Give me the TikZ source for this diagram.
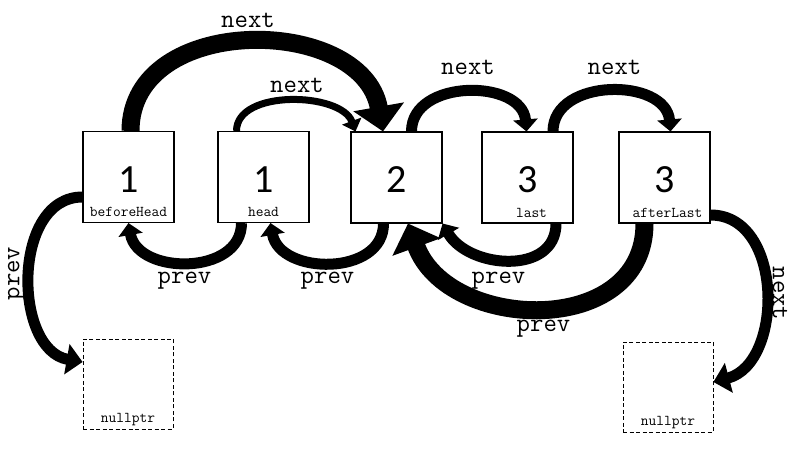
\documentclass[tikz,border=0pt]{standalone}
\usepackage{fontspec}
\newfontfamily\digitfont{Carlito}
\usetikzlibrary{arrows.meta, positioning}
\tikzset{
  cell/.style={draw, line width=1.1pt, minimum width=91pt, minimum height=91pt, inner sep=0pt,
    font=\digitfont\fontsize{40}{40}\selectfont, text height=31pt, text depth=0pt},
  nullcell/.style={cell, line width=0.8pt, dash pattern=on 4pt off 2.5pt, minimum width=90pt, minimum height=90pt},
  tag/.style={font=\ttfamily\fontsize{15}{15}\selectfont, anchor=base, yshift=6.5pt, inner sep=0pt},
  lbl/.style={font=\ttfamily\fontsize{26}{26}\selectfont, inner sep=0pt},
  ptr/.style={line width=11pt, -{Triangle[width=24pt, length=12pt]}},
  thin ptr/.style={line width=7pt, -{Triangle[width=20pt, length=11pt]}},
  fat ptr/.style={line width=18pt, -{Triangle[width=50pt, length=25pt]}},
  side ptr/.style={line width=11pt, -{Triangle[width=30pt, length=16pt]}}
}
\begin{document}
\begin{tikzpicture}[x=1pt, y=1pt]
	\useasboundingbox (0,0) rectangle (797,468);
	% list cells
	\node[cell, label={[tag]south:beforeHead}] (bh) at (128.5,291) {1};
	\node[cell, label={[tag]south:head}] (head) at (263.5,291) {1};
	\node[cell] (two) at (396.5,290.5) {2};
	\node[cell, label={[tag, xshift=4pt]south:last}] (last) at (527.5,290.5) {3};
	\node[cell, label={[tag, xshift=3pt]south:afterLast}] (al) at (664.5,290.5) {3};
	\node[nullcell, label={[tag]south:nullptr}] (nl) at (128,84) {};
	\node[nullcell, label={[tag]south:nullptr}] (nr) at (668,81) {};
	% next pointers
	\draw[fat ptr] ([xshift=2pt]bh.north) to[out=90, in=100, looseness=1.2] ([xshift=-13.5pt]two.north);
	\draw[thin ptr] ([xshift=-27pt]head.north) to[out=90, in=110, looseness=0.9] ([xshift=-41pt]two.north);
	\draw[ptr] ([xshift=15pt]two.north) to[out=90, in=95, looseness=1.18] ([xshift=-1pt]last.north);
	\draw[ptr] ([xshift=25.5pt]last.north) to[out=90, in=95, looseness=1.18] ([xshift=6pt]al.north);
	\draw[side ptr] ([yshift=-37.5pt]al.east) to[out=0, in=15, looseness=1.12] ([yshift=5pt]nr.east);
	% prev pointers
	\draw[ptr] ([xshift=-22pt]head.south) to[out=-90, in=-80, looseness=1.2] (bh.south);
	\draw[ptr] ([xshift=-13pt]two.south) to[out=-90, in=-80, looseness=1.2] ([xshift=7pt]head.south);
	\draw[ptr] ([xshift=28.5pt]last.south) to[out=-90, in=-60, looseness=1.18] (two.south east);
	\draw[fat ptr] ([xshift=-20pt]al.south) to[out=-90, in=-70, looseness=1.25] ([xshift=11.5pt]two.south);
	\draw[side ptr] ([yshift=-20pt]bh.west) to[out=180, in=170, looseness=1.1] ([yshift=22pt]nl.west);
	% pointer names
	\node[lbl] (nextA) at (248,448) {next};
	\node[lbl] (nextB) at (297,383) {next};
	\node[lbl] (nextC) at (468,401) {next};
	\node[lbl] (nextD) at (614.5,401) {next};
	\node[lbl, rotate=-90] (nextE) at (780,174.5) {next};
	\node[lbl] (prevA) at (184.5,187) {prev};
	\node[lbl] (prevB) at (327.5,187) {prev};
	\node[lbl] (prevC) at (498.5,187) {prev};
	\node[lbl] (prevD) at (543.5,139) {prev};
	\node[lbl, rotate=90] (prevE) at (16.5,194.5) {prev};
\end{tikzpicture}
\end{document}
